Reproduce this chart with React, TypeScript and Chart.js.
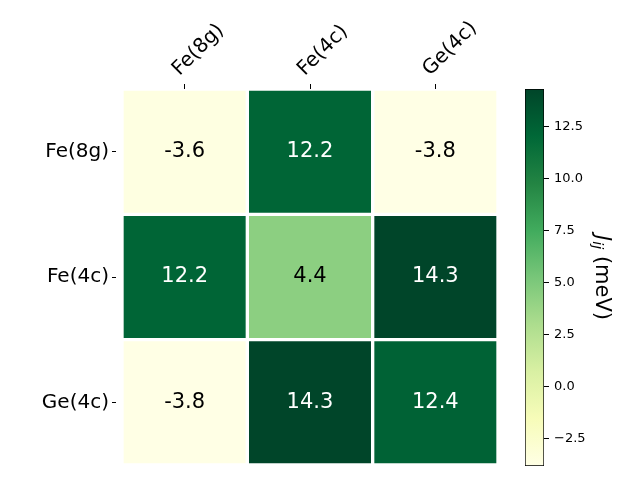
import React, { useEffect, useRef } from "react";
import { Chart, registerables } from "chart.js";

Chart.register(...registerables);

const colLabels = ["Fe(8g)", "Fe(4c)", "Ge(4c)"];
const rowLabels = ["Fe(8g)", "Fe(4c)", "Ge(4c)"];
const rowFe8g = [-3.6, 12.2, -3.8];
const rowFe4c = [12.2, 4.4, 14.3];
const rowGe4c = [-3.8, 14.3, 12.4];
const matrix = [rowFe8g, rowFe4c, rowGe4c];
const colorbarTicks = [-2.5, 0, 2.5, 5, 7.5, 10, 12.5];

const allVals = matrix.flat();
const vmin = Math.min(...allVals);
const vmax = Math.max(...allVals);

const YLGN = [
  [255, 255, 229],
  [247, 252, 185],
  [217, 240, 163],
  [173, 221, 142],
  [120, 198, 121],
  [65, 171, 93],
  [35, 132, 67],
  [0, 104, 55],
  [0, 69, 41],
];

function cmap(v: number): string {
  let t = (v - vmin) / (vmax - vmin);
  t = Math.max(0, Math.min(1, t));
  const p = t * (YLGN.length - 1);
  const i = Math.min(Math.floor(p), YLGN.length - 2);
  const f = p - i;
  const a = YLGN[i];
  const b = YLGN[i + 1];
  const c = a.map((x, k) => Math.round(x + (b[k] - x) * f));
  return `rgb(${c[0]},${c[1]},${c[2]})`;
}

const FONT = "'DejaVu Sans', sans-serif";

export default function App() {
  const mainRef = useRef<HTMLCanvasElement>(null);
  const cbRef = useRef<HTMLCanvasElement>(null);

  useEffect(() => {
    const cellText = {
      id: "cellText",
      afterDatasetsDraw(chart: any) {
        const ctx = chart.ctx;
        ctx.save();
        ctx.font = `21px ${FONT}`;
        ctx.textAlign = "center";
        ctx.textBaseline = "middle";
        matrix.forEach((row, r) => {
          const meta = chart.getDatasetMeta(r);
          row.forEach((v, c) => {
            const el = meta.data[c];
            const { x, y, base } = el.getProps(["x", "y", "base"], true);
            const t = (v - vmin) / (vmax - vmin);
            ctx.fillStyle = t > 0.6 ? "#ffffff" : "#000000";
            ctx.fillText(v.toFixed(1), x, (y + base) / 2);
          });
        });
        ctx.restore();
      },
    };

    const main = new Chart(mainRef.current!, {
      type: "bar",
      data: {
        labels: colLabels,
        datasets: matrix.map((row, r) => ({
          label: rowLabels[r],
          data: row.map(() => [r, r + 1] as [number, number]),
          backgroundColor: row.map((v) => cmap(v)),
          borderColor: "#ffffff",
          borderWidth: 2,
          borderSkipped: false,
          barPercentage: 1,
          categoryPercentage: 1,
          grouped: false,
        })),
      },
      options: {
        animation: false,
        responsive: false,
        layout: { padding: { left: 0, top: 0, right: 142, bottom: 15 } },
        plugins: { legend: { display: false }, tooltip: { enabled: false } },
        scales: {
          x: {
            type: "category",
            position: "top",
            offset: true,
            afterFit: (s: any) => {
              s.height = 89;
            },
            border: { display: false },
            grid: {
              offset: false,
              drawOnChartArea: false,
              tickLength: 5,
              color: "#000",
            },
            ticks: {
              autoSkip: false,
              minRotation: 45,
              maxRotation: 45,
              padding: 3,
              labelOffset: 8,
              color: "#000",
              font: { family: FONT, size: 20 },
            },
          },
          y: {
            type: "linear",
            min: 0,
            max: 3,
            reverse: true,
            afterFit: (s: any) => {
              s.width = 122;
            },
            afterBuildTicks: (s: any) => {
              s.ticks = rowLabels.map((_, i) => ({ value: i + 0.5 }));
            },
            border: { display: false },
            grid: {
              drawOnChartArea: false,
              tickLength: 10,
              tickBorderDash: [4, 6],
              color: "#000",
            },
            ticks: {
              padding: 3,
              color: "#000",
              font: { family: FONT, size: 20 },
              callback: (_v: any, i: number) => rowLabels[i],
            },
          },
        },
      },
      plugins: [cellText],
    } as any);

    const cbTitle = {
      id: "cbTitle",
      afterDraw(chart: any) {
        const ctx = chart.ctx;
        const a = chart.chartArea;
        const cy = (a.top + a.bottom) / 2;
        const cx = 601;
        ctx.save();
        ctx.translate(cx, cy);
        ctx.rotate(Math.PI / 2);
        ctx.fillStyle = "#000";
        ctx.textBaseline = "middle";
        ctx.textAlign = "left";
        const big = `italic 21px ${FONT}`;
        const small = `italic 14.5px ${FONT}`;
        const norm = `21px ${FONT}`;
        ctx.font = big;
        const wJ = ctx.measureText("J").width;
        ctx.font = small;
        const wij = ctx.measureText("ij").width;
        ctx.font = norm;
        const wRest = ctx.measureText(" (meV)").width;
        let x = -(wJ + wij + wRest) / 2;
        ctx.font = big;
        ctx.fillText("J", x, 0);
        x += wJ;
        ctx.font = small;
        ctx.fillText("ij", x, 4);
        x += wij;
        ctx.font = norm;
        ctx.fillText(" (meV)", x, 0);
        ctx.restore();
      },
    };

    const cb = new Chart(cbRef.current!, {
      type: "bar",
      data: {
        labels: [""],
        datasets: [
          {
            data: [[vmin, vmax] as [number, number]],
            backgroundColor: (c: any) => {
              const ch = c.chart;
              const area = ch.chartArea;
              if (!area) return "#fff";
              const g = ch.ctx.createLinearGradient(0, area.bottom, 0, area.top);
              YLGN.forEach((col, i) => {
                g.addColorStop(i / (YLGN.length - 1), `rgb(${col[0]},${col[1]},${col[2]})`);
              });
              return g;
            },
            borderColor: "#000",
            borderWidth: 1,
            borderSkipped: false,
            barPercentage: 1,
            categoryPercentage: 1,
          },
        ],
      },
      options: {
        animation: false,
        responsive: false,
        layout: { padding: { left: 525, top: 89, right: 0, bottom: 14 } },
        plugins: { legend: { display: false }, tooltip: { enabled: false } },
        scales: {
          x: { display: false },
          y: {
            type: "linear",
            position: "right",
            min: vmin,
            max: vmax,
            afterFit: (s: any) => {
              s.width = 96;
            },
            afterBuildTicks: (s: any) => {
              s.ticks = colorbarTicks.map((v) => ({ value: v }));
            },
            border: { display: false },
            grid: { drawOnChartArea: false, tickLength: 5, color: "#000" },
            ticks: {
              padding: 5,
              color: "#000",
              font: { family: FONT, size: 13 },
              callback: (v: any) => {
                const n = Number(v);
                const s = Math.abs(n).toFixed(1);
                return n < 0 ? "\u2212" + s : s;
              },
            },
          },
        },
      },
      plugins: [cbTitle],
    } as any);

    return () => {
      main.destroy();
      cb.destroy();
    };
  }, []);

  return (
    <div style={{ position: "fixed", left: 0, top: 0, width: 640, height: 480, background: "#fff" }}>
      <canvas
        ref={mainRef}
        width={640}
        height={480}
        style={{ position: "absolute", left: 0, top: 0, width: 640, height: 480 }}
      />
      <canvas
        ref={cbRef}
        width={640}
        height={480}
        style={{ position: "absolute", left: 0, top: 0, width: 640, height: 480 }}
      />
    </div>
  );
}
